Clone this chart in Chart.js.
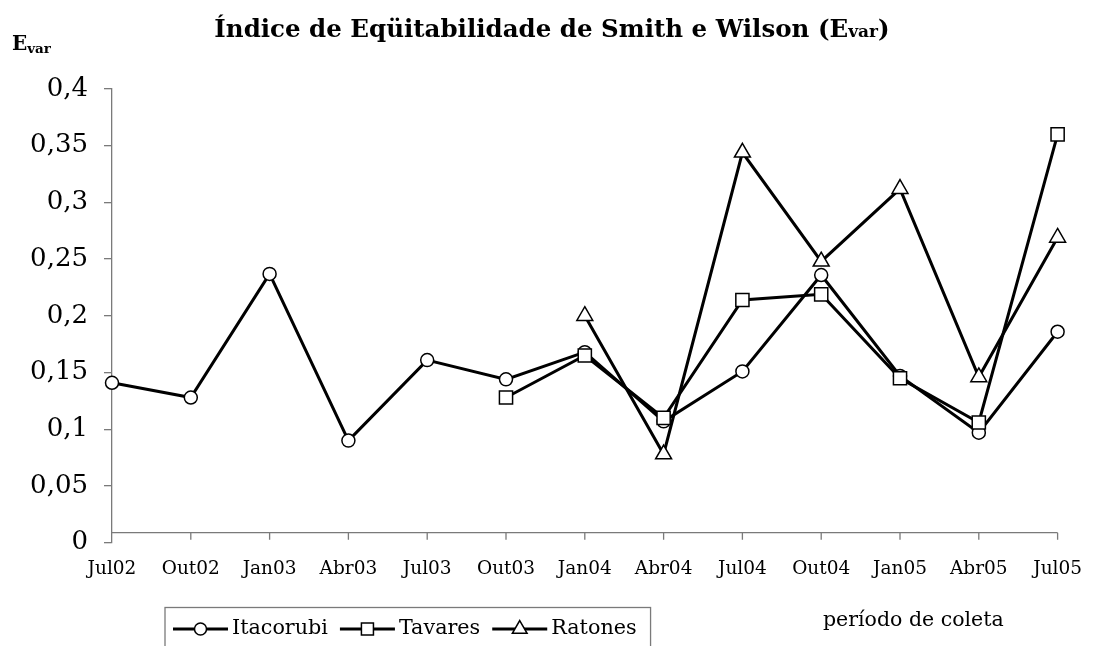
<!DOCTYPE html>
<html>
<head>
<meta charset="utf-8">
<script src="https://cdn.jsdelivr.net/npm/chart.js@4.4.1/dist/chart.umd.min.js"></script>
<style>
body { margin: 0; background: #fff; }
#wrap { position: relative; width: 1097px; height: 646px; overflow: hidden; }
#graphEvar { position: absolute; left: 0; top: 0; }
.txt { position: absolute; font-family: "DejaVu Serif", serif; color: #000; white-space: nowrap; line-height: 1; }
#title { left: 0; width: 1104px; top: 17px; text-align: center; font-weight: bold; font-size: 24.5px; }
#evar { left: 12px; top: 33px; font-weight: bold; font-size: 20px; }
#xTitle { left: 823px; top: 609px; font-size: 20.5px; }
</style>
</head>
<body>
<div id="wrap">
<canvas id="graphEvar" width="1097" height="646"></canvas>
<div class="txt" id="title">Índice de Eqüitabilidade de Smith e Wilson (E<span style="font-size:17px">var</span>)</div>
<div class="txt" id="evar">E<span style="font-size:13.5px;position:relative;top:3px">var</span></div>
<div class="txt" id="xTitle">período de coleta</div>
</div>
<script>
var periodos = ['Jul02', 'Out02', 'Jan03', 'Abr03', 'Jul03', 'Out03', 'Jan04', 'Abr04', 'Jul04', 'Out04', 'Jan05', 'Abr05', 'Jul05'];
var itacorubi = [0.141, 0.128, 0.237, 0.090, 0.161, 0.144, 0.168, 0.107, 0.151, 0.236, 0.147, 0.097, 0.186];
var tavares = [null, null, null, null, null, 0.128, 0.165, 0.110, 0.214, 0.219, 0.145, 0.106, 0.360];
var ratones = [null, null, null, null, null, null, 0.200, 0.078, 0.344, 0.248, 0.312, 0.146, 0.269];
var yTickValues = [0, 0.05, 0.1, 0.15, 0.2, 0.25, 0.3, 0.35, 0.4];
var yTickLabels = ['0', '0,05', '0,1', '0,15', '0,2', '0,25', '0,3', '0,35', '0,4'];

var axisGray = '#7a7a7a';
var fontSerif = '"DejaVu Serif", serif';

function drawMarker(ctx, style, r, x, y) {
    ctx.beginPath();
    if (style == 'circle') {
        ctx.arc(x, y, r, 0, Math.PI * 2);
    } else if (style == 'rect') {
        var s = r * Math.SQRT1_2;
        ctx.rect(x - s, y - s, 2 * s, 2 * s);
    } else {
        ctx.moveTo(x, y - r);
        ctx.lineTo(x + r * 0.866, y + r / 2);
        ctx.lineTo(x - r * 0.866, y + r / 2);
        ctx.closePath();
    }
    ctx.fillStyle = '#fff';
    ctx.fill();
    ctx.lineWidth = 1.5;
    ctx.strokeStyle = '#000';
    ctx.stroke();
}

// linha do eixo x (fica um pouco acima do zero, como no original) e legenda
var extrasPlugin = {
    id: 'extras',
    beforeDatasetsDraw(chart) {
        const ctx = chart.ctx;
        const xs = chart.scales.x;
        const yAxis = chart.scales.y.getPixelForValue(0) - 10;
        ctx.save();
        ctx.strokeStyle = axisGray;
        ctx.lineWidth = 1.3;
        ctx.beginPath();
        ctx.moveTo(chart.chartArea.left, yAxis);
        ctx.lineTo(chart.chartArea.right, yAxis);
        for (let i = 1; i < periodos.length; i++) {
            const px = xs.getPixelForTick(i);
            ctx.moveTo(px, yAxis);
            ctx.lineTo(px, yAxis + 7);
        }
        ctx.stroke();
        ctx.restore();
    },
    afterDraw(chart) {
        const ctx = chart.ctx;
        const cy = 629;
        let x0 = 173;
        ctx.save();
        ctx.font = '20.7px ' + fontSerif;
        ctx.textBaseline = 'middle';
        const sets = chart.data.datasets;
        let lastEnd = x0;
        for (let i = 0; i < sets.length; i++) {
            ctx.strokeStyle = '#000';
            ctx.lineWidth = 3;
            ctx.beginPath();
            ctx.moveTo(x0, cy);
            ctx.lineTo(x0 + 55, cy);
            ctx.stroke();
            drawMarker(ctx, sets[i].pointStyle, sets[i].pointStyle == 'circle' ? 6 : 8.5, x0 + 27.5, cy);
            ctx.fillStyle = '#000';
            ctx.fillText(sets[i].label, x0 + 59, cy);
            lastEnd = x0 + 59 + ctx.measureText(sets[i].label).width;
            x0 = lastEnd + 12;
        }
        ctx.strokeStyle = axisGray;
        ctx.lineWidth = 1.3;
        ctx.strokeRect(165, 607.5, lastEnd + 14 - 165, 60);
        ctx.restore();
    }
};

function serie(label, data, style, radius, order) {
    return {
        label: label,
        data: data,
        borderColor: '#000',
        borderWidth: 3,
        pointStyle: style,
        pointRadius: radius,
        pointHoverRadius: radius,
        pointBackgroundColor: '#fff',
        pointBorderColor: '#000',
        pointBorderWidth: 1.5,
        tension: 0,
        clip: false,
        order: order
    };
}

var graph = document.querySelector('#graphEvar');
var myChartEvar = new Chart(graph, {
    type: 'line',
    data: {
        labels: periodos,
        datasets: [
            serie('Itacorubi', itacorubi, 'circle', 6.5, 3),
            serie('Tavares', tavares, 'rect', 9.3, 2),
            serie('Ratones', ratones, 'triangle', 9.2, 1)
        ]
    },
    options: {
        responsive: false,
        animation: false,
        events: [],
        layout: { padding: { left: 0, top: 89, right: 28, bottom: 0 } },
        scales: {
            x: {
                afterFit: function (s) { s.height = 103.3; },
                grid: { display: false, drawTicks: false },
                border: { display: false },
                ticks: {
                    color: '#000',
                    padding: 15,
                    maxRotation: 0,
                    autoSkip: false,
                    font: { family: fontSerif, size: 18.5 }
                }
            },
            y: {
                min: 0,
                max: 0.4,
                afterFit: function (s) { s.width = 112; },
                afterBuildTicks: function (s) { s.ticks = yTickValues.map(v => ({ value: v })); },
                grid: { drawOnChartArea: false, tickLength: 8, color: axisGray, lineWidth: 1.3 },
                border: { color: axisGray, width: 1.3 },
                ticks: {
                    color: '#000',
                    padding: 16,
                    font: { family: fontSerif, size: 26 },
                    callback: function (v, i) { return yTickLabels[i]; }
                }
            }
        },
        plugins: {
            legend: { display: false },
            tooltip: { enabled: false }
        }
    },
    plugins: [extrasPlugin]
});
</script>
</body>
</html>
